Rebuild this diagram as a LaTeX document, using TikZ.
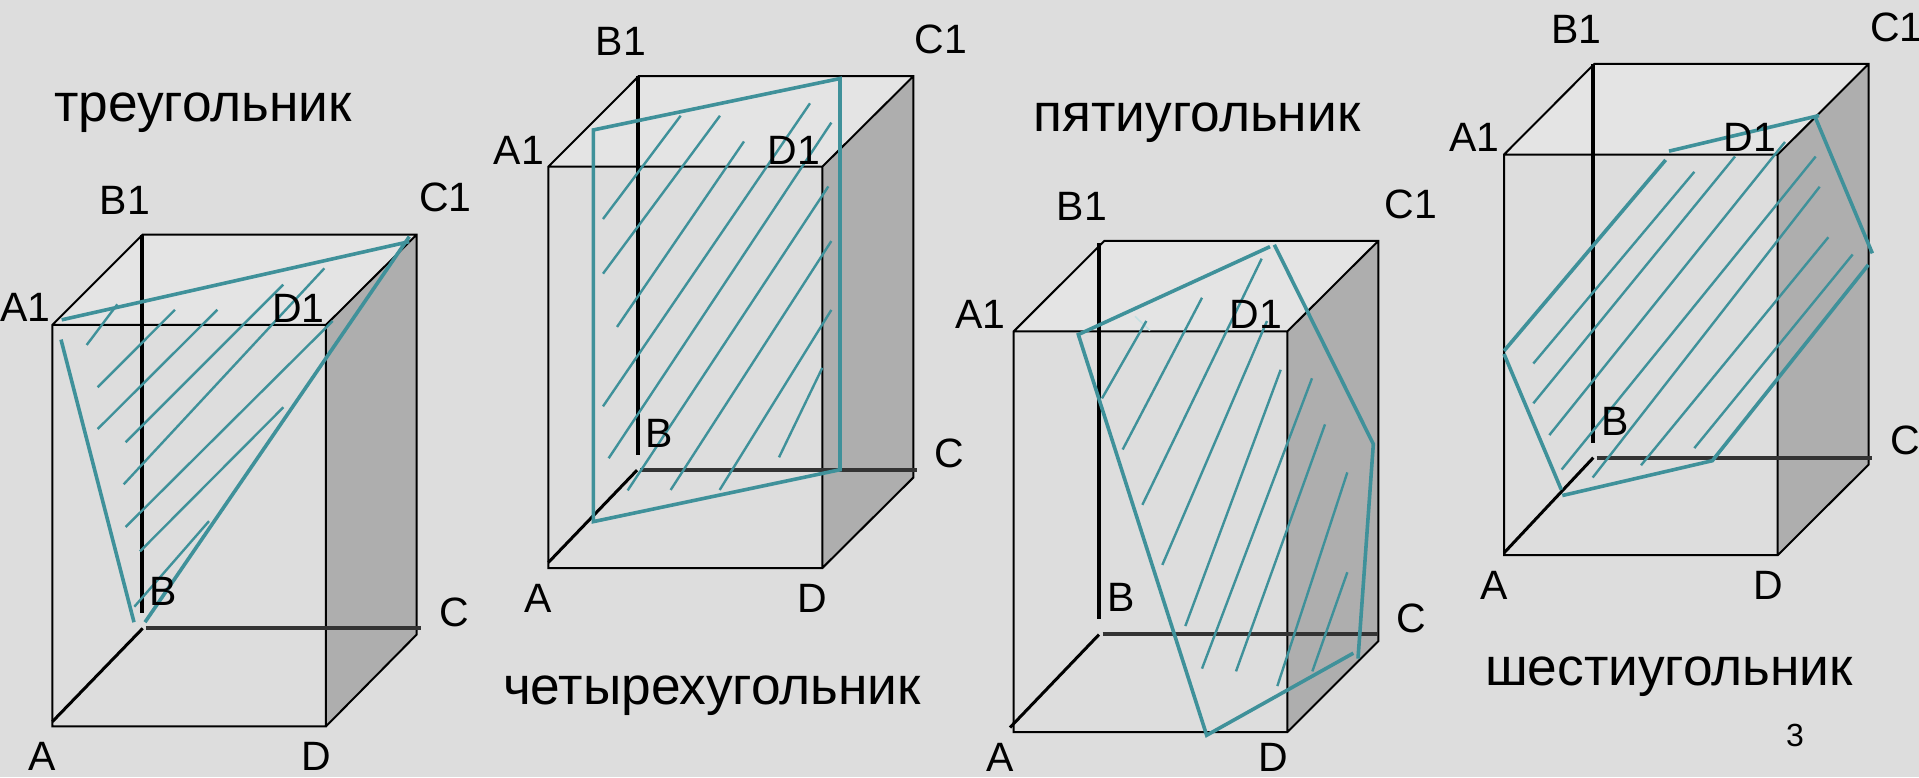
\documentclass[tikz,border=0pt]{standalone}
\usepackage{fontspec}
\setmainfont{Liberation Sans}
\definecolor{bgc}{HTML}{DDDDDD}
\definecolor{topc}{HTML}{E4E4E4}
\definecolor{sidec}{HTML}{AEAEAE}
\definecolor{tealc}{HTML}{3F919A}
\definecolor{midc}{HTML}{333333}
\definecolor{paletealc}{HTML}{C4E0E2}
\tikzset{
  edgeline/.style={draw=black,line width=2pt},
  boldline/.style={draw=black,line width=4pt},
  diagline/.style={draw=black,line width=3pt},
  hiddenline/.style={draw=midc,line width=4pt},
  hatchline/.style={draw=tealc,line width=2.4pt},
  cutline/.style={draw=tealc,line width=3.6pt},
  faintline/.style={draw=paletealc,line width=1.6pt},
  toplane/.style={fill=topc},
  sideplane/.style={fill=sidec},
  lab/.style={inner sep=0pt,font=\fontsize{41}{41}\selectfont},
  word/.style={inner sep=0pt,anchor=base,font=\fontsize{53.3}{53}\selectfont},
  pagenum/.style={inner sep=0pt,font=\fontsize{32}{32}\selectfont},
  zoomA/.style={x=0.33333pt,y=-0.38714pt},
  zoomB/.style={x=0.33333pt,y=-0.45918pt},
  zoomC/.style={x=0.33333pt,y=-0.38265pt}
}
\begin{document}
\begin{tikzpicture}[x=1pt,y=-1pt]
\useasboundingbox (0pt,0pt) rectangle (1919pt,-777pt);
\fill[bgc] (0pt,0pt) rectangle (1919pt,-777pt);

% Cube 1
\begin{scope}[shift={(0pt,-170pt)},zoomA]
\fill[toplane] (157,400)--(428,167)--(1250,167)--(978,400)--cycle;
\fill[sideplane] (978,400)--(1250,167)--(1250,1200)--(978,1437)--cycle;
\draw[edgeline] (157,400)--(428,167)--(1250,167)--(1250,1200)--(978,1437)--(157,1437)--cycle
  (157,400)--(978,400)--(1250,167) (978,400)--(978,1437);
\draw[boldline] (425,167)--(425,1145);
\draw[diagline] (157,1425)--(428,1184);
\draw[hiddenline] (437,1184)--(1262,1184);
\draw[hatchline] (260,452)--(352,347) (293,561)--(525,361) (293,669)--(652,361) (377,703)--(850,296)
  (371,812)--(973,254) (377,922)--(998,390) (420,985)--(850,613) (403,1128)--(627,907);
\draw[cutline] (185,387)--(1228,185) (1228,172)--(435,1168) (183,438)--(402,1168);
\node[lab] (a1) at (76,355) {A1};
\node[lab] (b1) at (375,78) {B1};
\node[lab] (c1) at (1336,70) {C1};
\node[lab] (d1) at (895,358) {D1};
\node[lab] (a) at (128,1515) {A};
\node[lab] (b) at (490,1088) {B};
\node[lab] (c) at (1362,1142) {C};
\node[lab] (d) at (948,1515) {D};
\end{scope}

% Cube 2
\begin{scope}[shift={(480pt,0pt)},zoomB]
\fill[toplane] (205,363)--(476,166)--(1300,166)--(1027,363)--cycle;
\fill[sideplane] (1027,363)--(1300,166)--(1300,1040)--(1027,1237)--cycle;
\draw[edgeline] (205,363)--(476,166)--(1300,166)--(1300,1040)--(1027,1237)--(205,1237)--cycle
  (205,363)--(1027,363)--(1300,166) (1027,363)--(1027,1237);
\draw[boldline] (473,166)--(473,990);
\draw[diagline] (205,1225)--(471,1024);
\draw[hiddenline] (480,1024)--(1310,1024);
\draw[hatchline] (369,477)--(602,252) (369,596)--(720,252) (411,712)--(792,308) (369,885)--(990,225)
  (386,998)--(1054,267) (443,1068)--(1045,406) (572,1067)--(1054,525) (719,1067)--(1054,675) (897,996)--(1027,801);
\draw[cutline] (340,283)--(1080,171)--(1080,1023)--(340,1136)--cycle;
\node[lab] (a2) at (117,327) {A1};
\node[lab] (b2) at (423,90) {B1};
\node[lab] (c2) at (1382,85) {C1};
\node[lab] (d2) at (942,327) {D1};
\node[lab] (e2) at (176,1303) {A};
\node[lab] (f2) at (537,943) {B};
\node[lab] (g2) at (1408,987) {C};
\node[lab] (h2) at (997,1303) {D};
\end{scope}

% Cube 3
\begin{scope}[shift={(950pt,-170pt)},zoomA]
\fill[toplane] (191,417)--(463,183)--(1285,183)--(1012,417)--cycle;
\fill[sideplane] (1012,417)--(1285,183)--(1285,1217)--(1012,1452)--cycle;
\draw[edgeline] (191,417)--(463,183)--(1285,183)--(1285,1217)--(1012,1452)--(191,1452)--cycle
  (191,417)--(1012,417)--(1285,183) (1012,417)--(1012,1452);
\draw[boldline] (447,188)--(447,1160);
\draw[diagline] (180,1440)--(447,1200);
\draw[hiddenline] (458,1199)--(1285,1199);
\draw[faintline] (555,378)--(600,415);
\draw[hatchline] (456,590)--(589,390) (518,722)--(756,330) (577,865)--(935,229) (637,1020)--(951,390)
  (706,1178)--(992,516) (756,1288)--(1086,538) (858,1295)--(1125,657) (982,1333)--(1192,781) (1087,1295)--(1192,1039);
\draw[cutline] (960,198)--(385,425)--(770,1460)--(1210,1248) (973,193)--(1270,708)--(1224,1262);
\node[lab] (a3) at (92,372) {A1};
\node[lab] (b3) at (396,93) {B1};
\node[lab] (c3) at (1382,88) {C1};
\node[lab] (d3) at (917,372) {D1};
\node[lab] (e3) at (150,1518) {A};
\node[lab] (f3) at (512,1105) {B};
\node[lab] (g3) at (1384,1157) {C};
\node[lab] (h3) at (970,1518) {D};
\end{scope}

% Cube 4
\begin{scope}[shift={(1439pt,0pt)},zoomC]
\fill[toplane] (195,404)--(466,167)--(1289,167)--(1016,404)--cycle;
\fill[sideplane] (1016,404)--(1289,167)--(1289,1214)--(1016,1451)--cycle;
\draw[edgeline] (195,404)--(466,167)--(1289,167)--(1289,1214)--(1016,1451)--(195,1451)--cycle
  (195,404)--(1016,404)--(1289,167) (1016,404)--(1016,1451);
\draw[boldline] (462,167)--(462,1157);
\draw[diagline] (195,1445)--(463,1196);
\draw[hiddenline] (473,1196)--(1300,1196);
\draw[hatchline] (283,950)--(766,449) (283,1054)--(888,409) (331,1137)--(1038,371) (368,1227)--(1130,409)
  (461,1248)--(1142,488) (606,1216)--(1168,620) (766,1171)--(1241,665);
\draw[cutline] (690,395)--(1140,302) (1128,305)--(1300,662) (1288,692)--(820,1204)--(370,1295)
  (367,1280)--(195,925) (195,917)--(680,418);
\node[lab] (a4) at (107,358) {A1};
\node[lab] (b4) at (412,77) {B1};
\node[lab] (c4) at (1372,72) {C1};
\node[lab] (d4) at (932,358) {D1};
\node[lab] (e4) at (165,1530) {A};
\node[lab] (f4) at (527,1100) {B};
\node[lab] (g4) at (1398,1152) {C};
\node[lab] (h4) at (987,1530) {D};
\end{scope}

\node[word] (t3) at (203pt,-121pt) {треугольник};
\node[word] (t4) at (712pt,-704pt) {четырехугольник};
\node[word] (t5) at (1197pt,-131pt) {пятиугольник};
\node[word] (t6) at (1669pt,-685pt) {шестиугольник};
\node[pagenum] (pg) at (1795pt,-735pt) {3};
\end{tikzpicture}
\end{document}
